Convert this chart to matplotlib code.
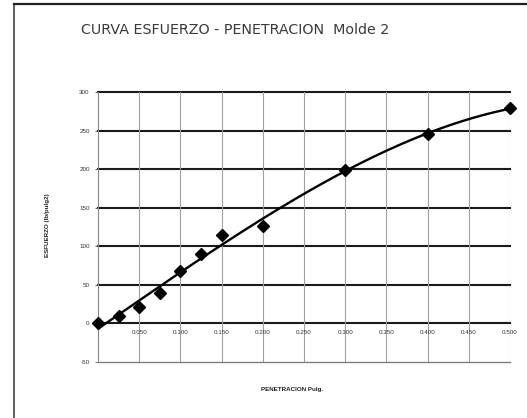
import numpy as np
import matplotlib
matplotlib.use("Agg")
import matplotlib.pyplot as plt
from matplotlib.lines import Line2D

# Penetration test readings, mould 2
penetracion = [0.000, 0.025, 0.050, 0.075, 0.100, 0.125, 0.150, 0.200, 0.300, 0.400, 0.500]
esfuerzo = [0, 10, 21, 40, 68, 90, 115, 126, 199, 245, 279]

x_ticks = [0.05, 0.10, 0.15, 0.20, 0.25, 0.30, 0.35, 0.40, 0.45, 0.50]
y_ticks = [-50, 0, 50, 100, 150, 200, 250, 300]

plt.rcParams['font.family'] = ['Liberation Sans', 'DejaVu Sans']

fig = plt.figure(figsize=(5.27, 4.18), dpi=100)
fig.patch.set_facecolor('white')

# outer chart frame (left and top edges)
fig.add_artist(Line2D([14/527, 14/527], [0, 1 - 4/418], transform=fig.transFigure,
                      color='#444444', lw=1.2))
fig.add_artist(Line2D([14/527, 1], [1 - 4/418, 1 - 4/418], transform=fig.transFigure,
                      color='#222222', lw=1.6))

ax = fig.add_axes([98/527, 1 - 362/418, 412/527, 270/418])
ax.set_xlim(0, 0.5)
ax.set_ylim(-50, 300)

for s in ['top', 'right', 'bottom']:
    ax.spines[s].set_visible(False)
ax.spines['left'].set_color('#888888')
ax.spines['left'].set_linewidth(0.8)
ax.spines['left'].set_position(('data', 0))

# grid
for yv in y_ticks:
    if yv == -50:
        ax.axhline(yv, color='#777777', lw=0.9, zorder=1, clip_on=False)
    else:
        ax.axhline(yv, color='#1a1a1a', lw=1.5, zorder=1, clip_on=False)
for xv in x_ticks:
    ax.axvline(xv, color='#a0a0a0', lw=0.8, zorder=1)

ax.set_xticks(x_ticks)
ax.set_xticklabels(['%.3f' % v for v in x_ticks], fontsize=4.5, color='#333333')
ax.xaxis.set_tick_params(length=0, pad=-23)
ax.set_yticks(y_ticks)
ax.set_yticklabels([str(v) for v in y_ticks], fontsize=4.5, color='#333333')
ax.yaxis.set_tick_params(length=2, width=0.6, color='#555555', pad=4)

# fitted curve
coef = np.polyfit(penetracion, esfuerzo, 3)
xs = np.linspace(0, 0.5, 200)
ax.plot(xs, np.polyval(coef, xs), color='black', lw=1.7, zorder=3)
ax.plot(penetracion, esfuerzo, linestyle='none', marker='D', markersize=6,
        color='black', zorder=4, clip_on=False)

fig.text(81/527, 1 - 30/418, 'CURVA ESFUERZO - PENETRACION  Molde 2', fontsize=10.3,
         family='DejaVu Sans', color='#3a3a3a', va='center', ha='left')
fig.text(48/527, 1 - 225/418, 'ESFUERZO (lb/pulg2)', fontsize=4.5, rotation=90,
         fontweight='bold', color='#222222', va='center', ha='center')
fig.text(292/527, 1 - 389/418, 'PENETRACION Pulg.', fontsize=4.5,
         fontweight='bold', color='#222222', va='center', ha='center')

fig.savefig('out.png', dpi=100, facecolor='white')
